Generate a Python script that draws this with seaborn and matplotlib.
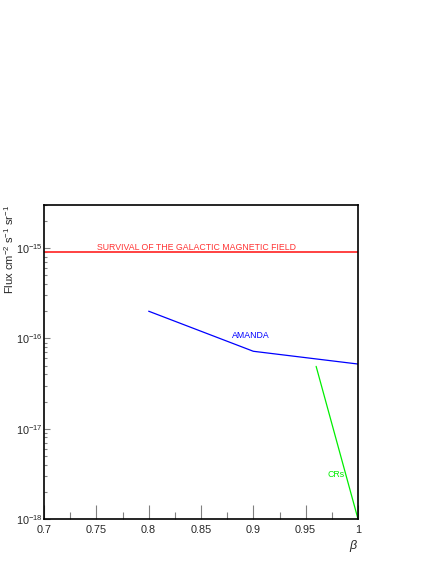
import numpy as np
import pandas as pd
import matplotlib
matplotlib.use('Agg')
import matplotlib.pyplot as plt
import seaborn as sns
from matplotlib.ticker import LogLocator, MultipleLocator, FixedFormatter, FixedLocator

# ---- data ----
survival_beta = [0.7, 1.0]
survival_flux = [9.0e-16, 9.0e-16]

amanda_beta = [0.8, 0.9, 1.0]
amanda_flux = [2.0e-16, 7.2e-17, 5.2e-17]

crs_beta = [0.96, 1.0]
crs_flux = [4.9e-17, 1.0e-18]

x_ticks = [0.7, 0.75, 0.8, 0.85, 0.9, 0.95, 1.0]
x_ticklabels = ['0.7', '0.75', '0.8', '0.85', '0.9', '0.95', '1']
y_ticks = [1e-18, 1e-17, 1e-16, 1e-15]
y_ticklabels = [r'$10^{-18}$', r'$10^{-17}$', r'$10^{-16}$', r'$10^{-15}$']

df = pd.concat([
    pd.DataFrame({'beta': survival_beta, 'flux': survival_flux, 'curve': 'survival'}),
    pd.DataFrame({'beta': amanda_beta, 'flux': amanda_flux, 'curve': 'amanda'}),
    pd.DataFrame({'beta': crs_beta, 'flux': crs_flux, 'curve': 'crs'}),
], ignore_index=True)

sns.set_theme(style="white")
plt.rcParams['font.family'] = ['Liberation Sans', 'DejaVu Sans']
plt.rcParams['mathtext.fontset'] = 'custom'
plt.rcParams['mathtext.rm'] = 'Liberation Sans'
plt.rcParams['mathtext.it'] = 'Liberation Sans:italic'

W, H = 436, 564
fig = plt.figure(figsize=(W / 100, H / 100), dpi=100)
ax = fig.add_axes([44 / W, 1 - 519 / H, (358 - 44) / W, (519 - 205) / H])

palette = {'survival': '#ff3333', 'amanda': '#0000ff', 'crs': '#00ee00'}
widths = {'survival': 1.3, 'amanda': 0.9, 'crs': 0.9}
for name, g in df.groupby('curve', sort=False):
    sns.lineplot(data=g, x='beta', y='flux', color=palette[name], lw=widths[name],
                 ax=ax, legend=False, sort=False, estimator=None)

ax.set_yscale('log')
ax.set_xlim(0.7, 1.0)
ax.set_ylim(1e-18, 3e-15)

ax.xaxis.set_major_locator(FixedLocator(x_ticks))
ax.xaxis.set_major_formatter(FixedFormatter(x_ticklabels))
ax.xaxis.set_minor_locator(MultipleLocator(0.025))
ax.yaxis.set_major_locator(FixedLocator(y_ticks))
ax.yaxis.set_major_formatter(FixedFormatter(y_ticklabels))
ax.yaxis.set_minor_locator(LogLocator(base=10, subs=np.arange(2, 10)))
ax.yaxis.set_minor_formatter(plt.NullFormatter())

ax.tick_params(axis='x', which='major', direction='in', length=10, width=0.8,
               color='0.5', labelsize=7.8, pad=4.2, top=False, bottom=True)
ax.tick_params(axis='x', which='minor', direction='in', length=5, width=0.8,
               color='0.5', top=False, bottom=True)
ax.tick_params(axis='y', which='major', direction='in', length=4.5, width=0.8,
               color='0.5', labelsize=7.8, pad=1, left=True, right=False)
ax.tick_params(axis='y', which='minor', direction='in', length=2.2, width=0.8,
               color='0.5', left=True, right=False)

for sp in ax.spines.values():
    sp.set_color('black')
    sp.set_linewidth(1.2)

ax.set_xlabel('')
ax.set_ylabel('')

note_size = 6.3
ax.text(0.7505, 9.5e-16, 'SURVIVAL OF THE GALACTIC MAGNETIC FIELD', color='#ff3333',
        fontsize=note_size, va='baseline', ha='left')
ax.text(0.880, 1.0e-16, 'AMANDA', color='#0000ff', fontsize=note_size,
        va='baseline', ha='left')
ax.text(0.9705, 2.9e-18, 'CRs', color='#00ee00', fontsize=note_size,
        va='baseline', ha='left')

fig.text(9 / W, 1 - 205 / H, r'Flux cm$^{-2}$ s$^{-1}$ sr$^{-1}$', rotation=90,
         ha='center', va='top', fontsize=8)
fig.text(358 / W, 1 - 549 / H, r'$\beta$', ha='right', va='baseline', fontsize=9)

fig.savefig('out.png', dpi=100)
